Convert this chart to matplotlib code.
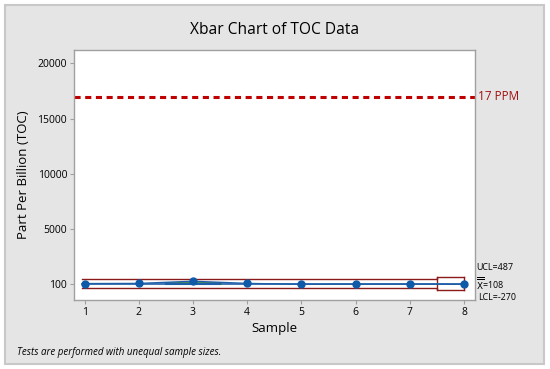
import matplotlib
matplotlib.use('Agg')
import matplotlib.pyplot as plt
from matplotlib.patches import Rectangle

# data
samples = [1, 2, 3, 4, 5, 6, 7, 8]
means = [110, 125, 320, 125, 45, 50, 55, 45]
center = 108
ucl = [487, 487, 487, 487, 487, 487, 487, 715]
lcl = [-270, -270, -270, -270, -270, -270, -270, -497]
spec_limit = 17000
yticks = [100, 5000, 10000, 15000, 20000]

plt.rcParams['font.family'] = ['Open Sans', 'DejaVu Sans']
plt.rcParams['mathtext.fontset'] = 'dejavusans'

fig = plt.figure(figsize=(5.5, 3.69), dpi=100)
fig.patch.set_facecolor('white')
# gray panel with border
fig.patches.append(Rectangle((5 / 550, 1 - 364 / 369), 539 / 550, 359 / 369,
                             transform=fig.transFigure, facecolor='#E5E5E5',
                             edgecolor='#C8C8C8', linewidth=1.5, zorder=-5))

ax = fig.add_axes([74 / 550, 1 - 300 / 369, 401 / 550, 250 / 369])
ax.set_zorder(2)
ax.set_facecolor('white')
for s in ax.spines.values():
    s.set_color('#A0A0A0')
    s.set_linewidth(1)

# step limits
xs, us, ls = [], [], []
for i, x in enumerate(samples):
    lo = x - 0.5 if i > 0 else 0.95
    hi = x + 0.5 if i < len(samples) - 1 else 8.0
    xs += [lo, hi]
    us += [ucl[i], ucl[i]]
    ls += [lcl[i], lcl[i]]
ax.plot(xs, us, color='#8B1A1A', lw=1)
ax.plot(xs, ls, color='#8B1A1A', lw=1)
ax.plot([xs[-2], xs[-2]], [ucl[-1], lcl[-1]], color='#8B1A1A', lw=1)
ax.plot([xs[-1], xs[-1]], [ucl[-1], lcl[-1]], color='#8B1A1A', lw=1)

ax.plot([0.95, 8.0], [center, center], color='#1F5FA8', lw=1.2)
ax.plot([2.5, 3.5], [center + 90, center + 90], color='#2E8B3A', lw=2)
ax.plot([2.5, 3.5], [center, center], color='#1F5FA8', lw=1.5)
ax.plot(samples, means, color='#1F5FA8', lw=1, marker='o', ms=5,
        markerfacecolor='#0F5AA8', markeredgecolor='#0F5AA8')

ax.axhline(spec_limit, color='#C00000', lw=2.2, ls=(0, (2, 1.5)))

ax.set_xlim(0.806, 8.2)
ax.set_ylim(-1373, 21200)
ax.set_xticks(samples)
ax.set_yticks(yticks)
ax.tick_params(axis='both', colors='#A0A0A0', labelcolor='black', labelsize=7.5,
               length=3, pad=2)
ax.set_xlabel('Sample', fontsize=9.5, labelpad=3)
ax.set_ylabel('Part Per Billion (TOC)', fontsize=9.5, labelpad=5)

fig.text(275 / 550, 1 - 30 / 369, 'Xbar Chart of TOC Data', ha='center', va='center', fontsize=11.2)

# right labels
fig.text(478 / 550, 1 - 97 / 369, '17 PPM', color='#A01010', fontsize=8.5, va='center')
fig.text(476 / 550, 1 - 268 / 369, 'UCL=487', fontsize=6.4, va='center')
fig.text(476 / 550, 1 - 283.5 / 369, r'$\overline{\overline{\mathrm{X}}}$=108', fontsize=6.4, va='center')
fig.text(478 / 550, 1 - 297 / 369, 'LCL=-270', fontsize=6.4, va='center')

fig.text(17 / 550, 1 - 353 / 369, 'Tests are performed with unequal sample sizes.',
         fontsize=7, style='italic', va='center')

plt.savefig('out.png', dpi=100)
plt.close()
